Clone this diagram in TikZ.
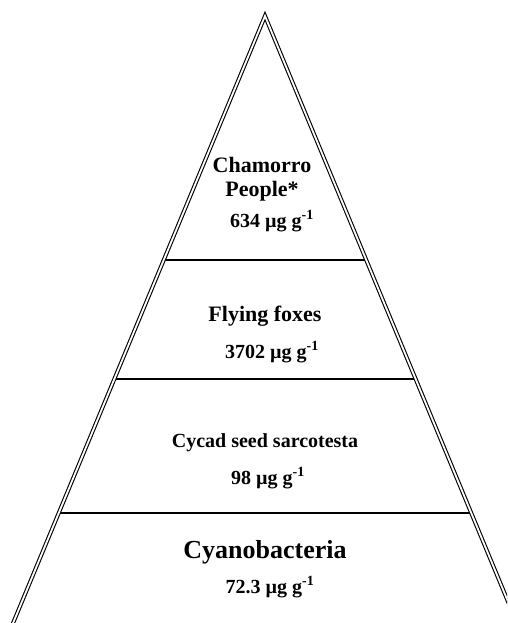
\documentclass[tikz,border=0pt]{standalone}
\usepackage{fontspec}
\setmainfont{Liberation Serif}
\begin{document}
\begin{tikzpicture}[x=1pt, y=-1pt, line join=miter]
  % Styles for the pyramid
  \tikzset{
    side/.style={double, double distance=1.8pt, line width=1.1pt},
    tier/.style={line width=1.3pt},
    layertext/.style={font=\bfseries\fontsize{22}{24}\selectfont, align=center, anchor=base, inner sep=0pt},
    conctext/.style={font=\bfseries\fontsize{20}{22}\selectfont, anchor=base, inner sep=0pt}
  }
  \useasboundingbox (0,0) rectangle (507,623);

  \def\slope{0.415}
  \coordinate (apex) at (265,16);
  \coordinate (baseL) at ({265-\slope*634},650);
  \coordinate (baseR) at ({265+\slope*634},650);

  % Garis batas antar tingkat
  \foreach \tn/\y in {top/260, mid/379, low/513} {
    \coordinate (\tn L) at ({265-\slope*(\y-16)},\y);
    \coordinate (\tn R) at ({265+\slope*(\y-16)},\y);
    \draw[tier] (\tn L) -- (\tn R);
  }

  % Sisi piramida (garis ganda)
  \begin{scope}
    \clip (0,0) rectangle (507,623);
    \draw[side] (baseL) -- (apex) -- (baseR);
  \end{scope}

  % Label tiap tingkat
  \node[layertext] (chamorro) at (262,196) {Chamorro\\People*};
  \node[conctext] (chamorroval) at (272,227) {634 µg g\textsuperscript{-1}};
  \node[layertext] (foxes) at (265,321) {Flying foxes};
  \node[conctext] (foxesval) at (272,358) {3702 µg g\textsuperscript{-1}};
  \node[layertext, font=\bfseries\fontsize{20}{22}\selectfont] (cycad) at (265,447) {Cycad seed sarcotesta};
  \node[conctext] (cycadval) at (268,484) {98 µg g\textsuperscript{-1}};
  \node[layertext, font=\bfseries\fontsize{26}{28}\selectfont] (cyano) at (265,558) {Cyanobacteria};
  \node[conctext] (cyanoval) at (270,593) {72.3 µg g\textsuperscript{-1}};
\end{tikzpicture}
\end{document}
